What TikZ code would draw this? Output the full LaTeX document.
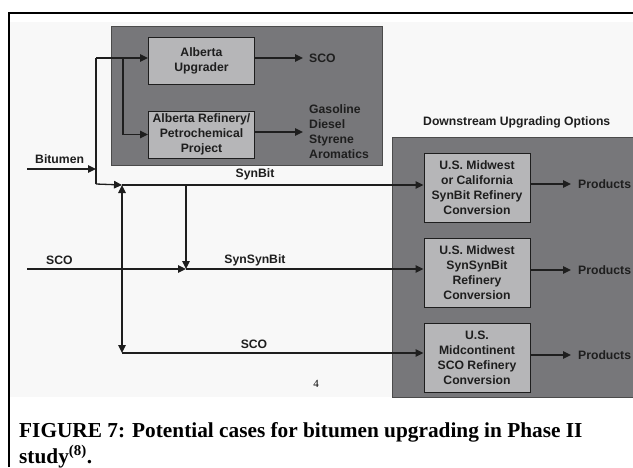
\documentclass[tikz,border=0pt]{standalone}
\usepackage{fontspec}
\setmainfont{Liberation Serif}
\setsansfont{Liberation Sans}
\usetikzlibrary{arrows.meta}
\definecolor{darkbox}{HTML}{77777A}
\definecolor{lightbox}{HTML}{B6B6B8}
\definecolor{pagebg}{HTML}{F8F8F8}
\definecolor{ink}{HTML}{1E1E1E}
\begin{document}
\begin{tikzpicture}[x=1pt,y=-1pt,
  txt/.style={font=\sffamily\bfseries\fontsize{12.2}{15}\selectfont, text=ink, inner sep=0pt},
  proc/.style={txt, draw=ink, line width=1pt, fill=lightbox, align=center,
    minimum width=106pt},
  panel/.style={fill=darkbox, draw=ink!80, line width=0.8pt},
  line/.style={draw=ink, line width=1.3pt},
  flow/.style={line, -{Triangle[length=8pt,width=7.5pt]}},
  dflow/.style={line, {Triangle[length=8pt,width=7.5pt]}-{Triangle[length=8pt,width=7.5pt]}},
  captxt/.style={anchor=base west, inner sep=0pt, font=\bfseries\fontsize{21.3}{26}\selectfont}
]
\useasboundingbox (0,0) rectangle (633,467);
\fill[white] (0,0) rectangle (633,467);
\fill[pagebg] (10,22) rectangle (633,397);
\draw[line width=2pt, black] (9,467) -- (9,12.7) -- (633,12.7);

% panels
\draw[panel] (111,26) rectangle (382,165);
\draw[panel] (392,137) rectangle (633,397);

% upper boxes
\node[proc, minimum height=47pt] (upg) at (201.5,60.5) {Alberta\\Upgrader};
\node[proc, minimum height=47pt] (ref) at (201.5,134.5) {Alberta Refinery/\\Petrochemical\\Project};
\node[txt, anchor=west] (sco1) at (309,58) {SCO};
\node[txt, anchor=west, align=left] (fuels) at (309,131.5) {Gasoline\\Diesel\\Styrene\\Aromatics};

% downstream
\node[txt, anchor=west] (dso) at (423,122) {Downstream Upgrading Options};
\node[proc, minimum height=69pt] (synb) at (477,187.5) {U.S. Midwest\\or California\\SynBit Refinery\\Conversion};
\node[proc, minimum height=69pt] (ssbb) at (477,272.5) {U.S. Midwest\\SynSynBit\\Refinery\\Conversion};
\node[proc, minimum height=69pt] (scob) at (477,357.5) {U.S.\\Midcontinent\\SCO Refinery\\Conversion};
\node[txt, anchor=west] (p1) at (578,184) {Products};
\node[txt, anchor=west] (p2) at (578,270) {Products};
\node[txt, anchor=west] (p3) at (578,355) {Products};

% left labels
\node[txt, anchor=west] (bitl) at (35,159) {Bitumen};
\node[txt] (synl) at (255,174) {SynBit};
\node[txt, anchor=west] (scol) at (46,260) {SCO};
\node[txt] (ssbl) at (255,260) {SynSynBit};
\node[txt] (scol2) at (254,344) {SCO};

% coordinates
\coordinate (bs) at (27,169);
\coordinate (bj) at (96,169);
\coordinate (bt) at (96,58);
\coordinate (bb) at (96,184);
\coordinate (br) at (123,58);
\coordinate (jn) at (122,185);
\coordinate (jd) at (122,353);
\coordinate (sv) at (186,185);
\coordinate (sj) at (186,269);
\coordinate (ss) at (27,269);

% flows
\draw[flow] (bs) -- (bj);
\draw[line] (bt) -- (bb);
\draw[flow] (bt) -- (upg.west|-bt);
\draw[flow] (br) -- (br|-ref.west) -- (ref.west);
\draw[flow] (bb) -- (jn);
\draw[flow] (upg.east|-sco1) -- ([xshift=-6pt]sco1.west);
\draw[flow] (ref.east|-0,132) -- ([xshift=-6pt]fuels.west|-0,132);

\draw[flow] (jn) -- (synb.west|-jn);
\draw[dflow] (jn) -- (jd);
\draw[flow] (sv) -- (sj);
\draw[flow] (ss) -- (sj);
\draw[flow] (sj) -- (ssbb.west|-sj);
\draw[flow] (jd) -- (scob.west|-jd);

\draw[flow] (synb.east|-p1) -- ([xshift=-7pt]p1.west);
\draw[flow] (ssbb.east|-p2) -- ([xshift=-7pt]p2.west);
\draw[flow] (scob.east|-p3) -- ([xshift=-7pt]p3.west);

% page number and caption
\node[font=\fontsize{11}{13}\selectfont, inner sep=0pt] (pg) at (316,384) {4};
\node[captxt] (cap1) at (19,437) {FIGURE 7: Potential cases for bitumen upgrading in Phase II};
\node[captxt] (cap2) at (19,463) {study\textsuperscript{(8)}.};
\end{tikzpicture}
\end{document}
